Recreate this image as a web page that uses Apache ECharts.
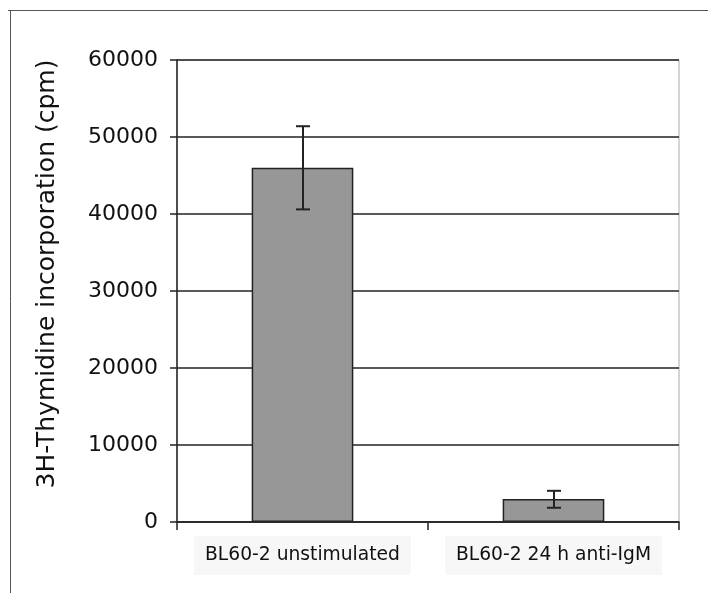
<!DOCTYPE html>
<html>
<head>
<meta charset="utf-8">
<script src="https://cdn.jsdelivr.net/npm/echarts@6/dist/echarts.min.js"></script>
<style>html,body{margin:0;padding:0;background:#fff}#c{width:708px;height:593px}</style>
</head>
<body>
<div id="c"></div>
<script>
const categories = ['BL60-2 unstimulated', 'BL60-2 24 h anti-IgM'];
const values = [46000, 3000];
const errLow = [40600, 1850];
const errHigh = [51400, 4050];
const yTicks = [0, 10000, 20000, 30000, 40000, 50000, 60000];

const chart = echarts.init(document.getElementById('c'));
const font = '"DejaVu Sans", "Liberation Sans", sans-serif';
chart.setOption({
  animation: false,
  backgroundColor: '#fff',
  graphic: [
    { type: 'line', shape: { x1: 8, y1: 10.5, x2: 708, y2: 10.5 }, style: { stroke: '#555', lineWidth: 1 } },
    { type: 'line', shape: { x1: 10.5, y1: 10, x2: 10.5, y2: 593 }, style: { stroke: '#555', lineWidth: 1 } }
  ],
  grid: { left: 177, right: 29, top: 60, bottom: 71, show: true, borderColor: '#aaa', borderWidth: 1, backgroundColor: 'transparent' },
  xAxis: {
    type: 'category',
    data: categories,
    boundaryGap: true,
    axisLine: { lineStyle: { color: '#222', width: 1.5 } },
    axisTick: { show: true, interval: 0, length: 8, lineStyle: { color: '#222', width: 1.5 } },
    axisLabel: { interval: 0, hideOverlap: false, fontFamily: font, fontSize: 18.7, color: '#111', margin: 14, backgroundColor: '#f7f7f7', padding: [10, 11, 10, 11] },
    splitLine: { show: false }
  },
  yAxis: {
    type: 'value',
    min: yTicks[0],
    max: yTicks[yTicks.length - 1],
    interval: 10000,
    name: '3H-Thymidine incorporation (cpm)',
    nameLocation: 'middle',
    nameRotate: 90,
    nameGap: 117,
    nameTextStyle: { fontFamily: font, fontSize: 25, color: '#111', padding: [0, 0, 0, 34] },
    axisLine: { show: true, lineStyle: { color: '#222', width: 1.5 } },
    axisTick: { show: true, length: 7, lineStyle: { color: '#222', width: 1.5 } },
    axisLabel: { fontFamily: font, fontSize: 22, color: '#111', margin: 19, formatter: function (v) { return String(v); } },
    splitLine: { show: true, lineStyle: { color: '#222', width: 1.5 } }
  },
  series: [
    {
      type: 'bar',
      data: values,
      barWidth: '40.5%',
      itemStyle: { color: '#979797', borderColor: '#222', borderWidth: 1.5 },
      z: 2
    },
    {
      type: 'custom',
      data: categories.map((c, i) => [i, errLow[i], errHigh[i]]),
      z: 3,
      renderItem: function (params, api) {
        const lo = api.coord([api.value(0), api.value(1)]);
        const hi = api.coord([api.value(0), api.value(2)]);
        const x = Math.round(lo[0]);
        const hw = 7;
        const st = { stroke: '#222', lineWidth: 2 };
        return {
          type: 'group',
          children: [
            { type: 'line', shape: { x1: x, y1: hi[1], x2: x, y2: lo[1] }, style: st },
            { type: 'line', shape: { x1: x - hw, y1: hi[1], x2: x + hw, y2: hi[1] }, style: st },
            { type: 'line', shape: { x1: x - hw, y1: lo[1], x2: x + hw, y2: lo[1] }, style: st }
          ]
        };
      }
    }
  ]
});
</script>
</body>
</html>
